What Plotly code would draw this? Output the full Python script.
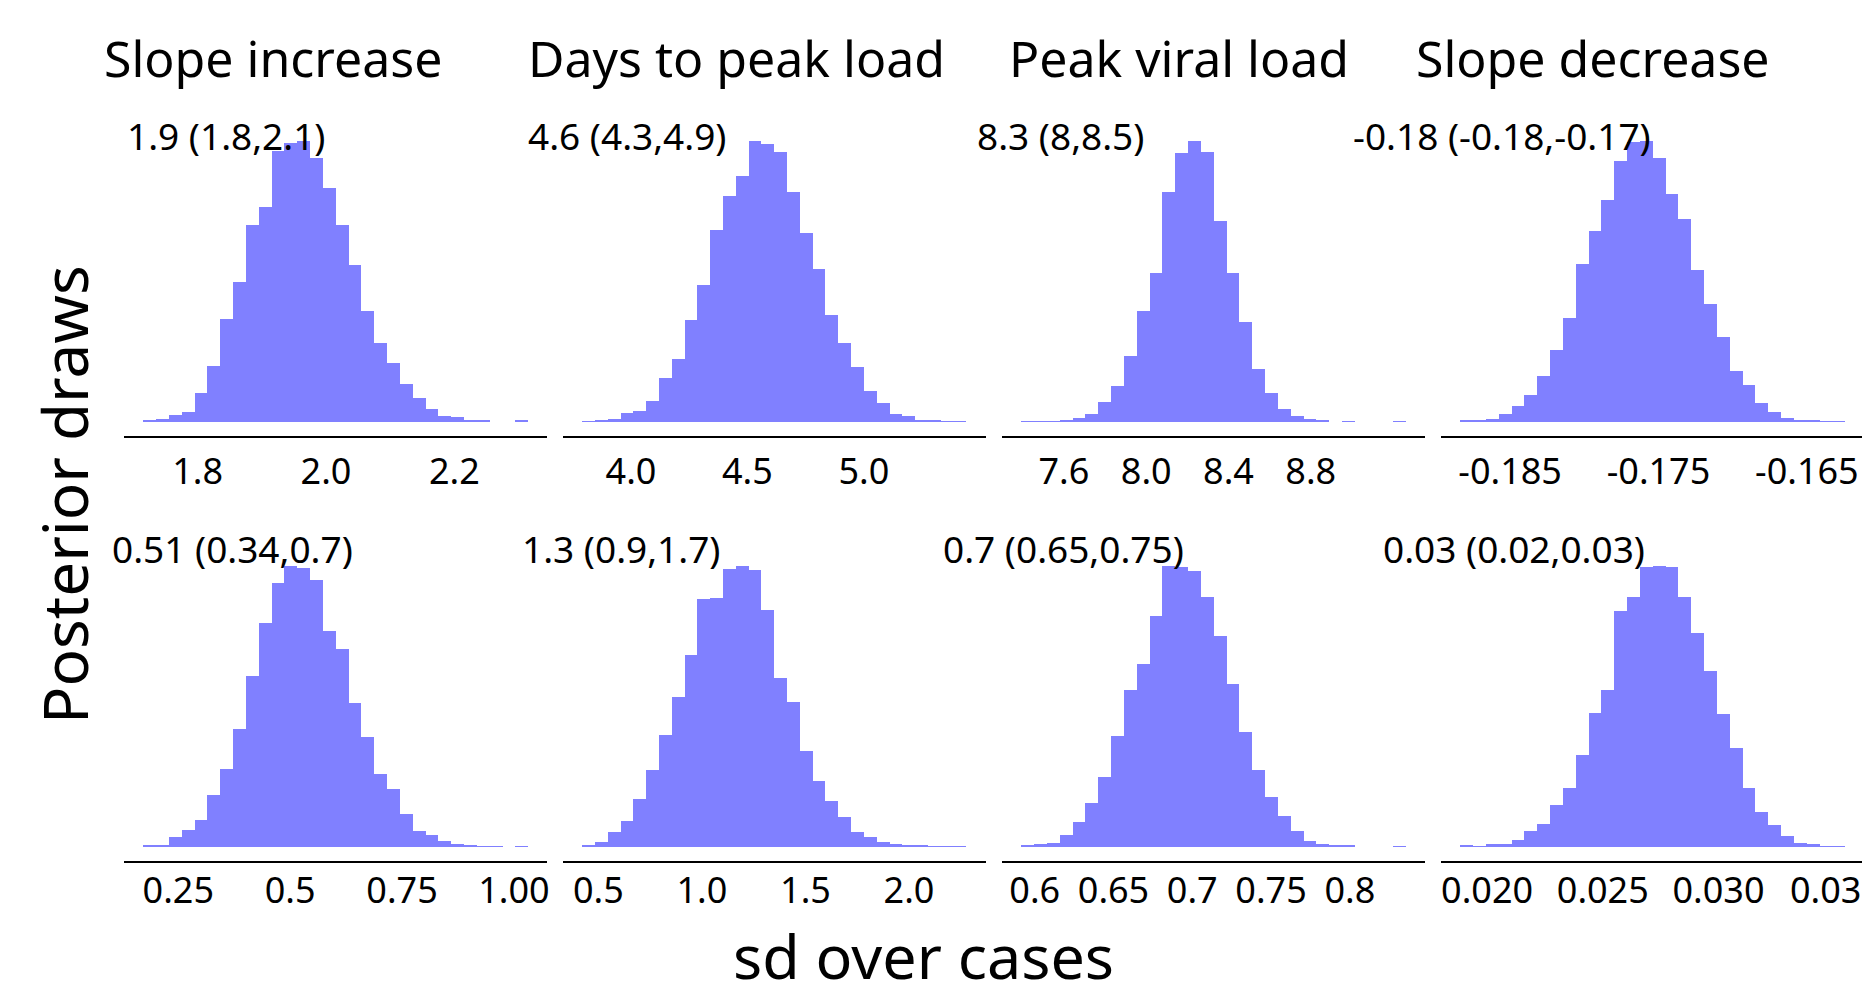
import numpy as np
import plotly.graph_objects as go

W, H = 1864, 988
FONT = "Noto Sans"
BAR_COLOR = "rgb(128,128,255)"

# ---------------- data ----------------
panel_titles = ["Slope increase", "Days to peak load", "Peak viral load", "Slope decrease"]
x_axis_title = "sd over cases"
y_axis_title = "Posterior draws"

# summary labels: median (95% interval)
stat_labels = [
    "1.9 (1.8,2.1)", "4.6 (4.3,4.9)", "8.3 (8,8.5)", "-0.18 (-0.18,-0.17)",
    "0.51 (0.34,0.7)", "1.3 (0.9,1.7)", "0.7 (0.65,0.75)", "0.03 (0.02,0.03)",
]

# histogram bins (30 bins per panel): left edge of first bin and bin width
bin_start = [1.715, 3.792, 7.392, -0.18833, 0.1714, 0.4237, 0.5914, 0.018861]
bin_width = [0.02, 0.055, 0.0624, 0.000865, 0.02868, 0.06183, 0.008146, 0.0005545]

counts_slope_increase_mean = [3, 10, 22, 30, 88, 167, 309, 419, 590, 645, 812, 835, 842, 792, 700,
                              591, 469, 333, 238, 177, 115, 73, 40, 17, 14, 4, 4, 0, 0, 3]
counts_days_to_peak_mean = [2, 3, 10, 28, 33, 65, 134, 195, 315, 423, 591, 695, 757, 865, 855,
                            832, 709, 582, 472, 328, 244, 170, 96, 57, 24, 17, 5, 3, 2, 2]
counts_peak_load_mean = [2, 1, 2, 4, 11, 23, 60, 109, 202, 341, 455, 705, 822, 860, 825,
                         615, 455, 305, 162, 88, 40, 19, 10, 3, 0, 2, 0, 0, 0, 2]
counts_slope_decrease_mean = [3, 7, 9, 22, 47, 79, 134, 209, 303, 462, 557, 648, 762, 818, 820,
                              770, 665, 592, 445, 345, 249, 148, 108, 54, 28, 13, 7, 6, 2, 2]
counts_slope_increase_sd = [3, 6, 30, 50, 81, 155, 231, 352, 507, 666, 786, 835, 830, 793, 642,
                            589, 428, 328, 218, 172, 97, 46, 35, 18, 9, 3, 2, 2, 0, 2]
counts_days_to_peak_sd = [6, 15, 45, 81, 148, 237, 344, 463, 593, 763, 766, 858, 866, 853, 730,
                          522, 447, 297, 202, 143, 91, 47, 30, 16, 8, 4, 3, 2, 1, 2]
counts_peak_load_sd = [3, 8, 11, 35, 75, 129, 208, 329, 465, 542, 685, 833, 830, 818, 740,
                       626, 482, 342, 228, 147, 91, 48, 19, 8, 5, 3, 0, 0, 0, 2]
counts_slope_decrease_sd = [3, 2, 8, 10, 20, 48, 68, 125, 175, 274, 397, 468, 700, 743, 833,
                            835, 833, 743, 637, 523, 395, 295, 175, 105, 66, 32, 11, 8, 2, 2]

panel_counts = [counts_slope_increase_mean, counts_days_to_peak_mean, counts_peak_load_mean,
                counts_slope_decrease_mean, counts_slope_increase_sd, counts_days_to_peak_sd,
                counts_peak_load_sd, counts_slope_decrease_sd]

tick_vals = [
    [1.8, 2.0, 2.2], [4.0, 4.5, 5.0], [7.6, 8.0, 8.4, 8.8], [-0.185, -0.175, -0.165],
    [0.25, 0.5, 0.75, 1.0], [0.5, 1.0, 1.5, 2.0], [0.6, 0.65, 0.7, 0.75, 0.8],
    [0.020, 0.025, 0.030],
]
tick_text = [
    ["1.8", "2.0", "2.2"], ["4.0", "4.5", "5.0"], ["7.6", "8.0", "8.4", "8.8"],
    ["-0.185", "-0.175", "-0.165"], ["0.25", "0.5", "0.75", "1.00"],
    ["0.5", "1.0", "1.5", "2.0"], ["0.6", "0.65", "0.7", "0.75", "0.8"],
    ["0.020", "0.025", "0.030"],
]
# last tick of the bottom-right panel is cut by the figure edge: only "0.03" of "0.035" shows
edge_tick_value = 0.035
edge_tick_visible_text = "0.03"

# ---------------- layout geometry (pixels) ----------------
col_px = [(124, 548), (564, 987), (1003, 1427), (1443, 1867)]
row_px = [(127, 436), (552, 861)]
row_label_standoff = [3, -3]
title_x_px = [273, 737, 1180, 1595]
title_y_px = 58
stat_x_px = [226, 628, 1062, 1504, 233, 622, 1065, 1516]
stat_y_px = [136, 136, 136, 136, 548, 548, 548, 548]

fig = go.Figure()
layout = dict(
    width=W, height=H,
    margin=dict(l=0, r=0, t=0, b=0),
    paper_bgcolor="white", plot_bgcolor="white",
    showlegend=False, bargap=0,
    font=dict(family=FONT, color="black"),
)

annotations = []
for i in range(8):
    r, c = divmod(i, 4)
    x0p, x1p = col_px[c]
    top, bot = row_px[r]
    a, h = bin_start[i], bin_width[i]
    counts = np.array(panel_counts[i], dtype=float)
    centers = a + h * (np.arange(len(counts)) + 0.5)
    n = len(counts)
    r0, r1 = a - 0.05 * n * h, a + n * h + 0.05 * n * h
    vis_x1p = min(x1p, W)
    r1v = r0 + (r1 - r0) * (vis_x1p - x0p) / (x1p - x0p)
    ymax = counts.max()
    suffix = "" if i == 0 else str(i + 1)
    fig.add_trace(go.Bar(
        x=centers, y=counts, width=h,
        marker=dict(color=BAR_COLOR, line=dict(width=0)),
        xaxis="x" + suffix, yaxis="y" + suffix, hoverinfo="x+y",
    ))
    layout["xaxis" + suffix] = dict(
        domain=[x0p / W, vis_x1p / W], range=[r0, r1v], anchor="y" + suffix,
        showgrid=False, zeroline=False, showline=True, linecolor="black", linewidth=2,
        ticks="", ticklabelstandoff=row_label_standoff[r],
        tickvals=tick_vals[i], ticktext=tick_text[i],
        tickfont=dict(family=FONT, size=36, color="black"),
    )
    layout["yaxis" + suffix] = dict(
        domain=[1 - bot / H, 1 - top / H], range=[-0.05 * ymax, 1.05 * ymax],
        anchor="x" + suffix, showgrid=False, zeroline=False, showline=False,
        showticklabels=False, ticks="",
    )
    annotations.append(dict(
        text=stat_labels[i], xref="paper", yref="paper",
        x=stat_x_px[i] / W, y=1 - stat_y_px[i] / H, xanchor="center", yanchor="middle",
        showarrow=False, font=dict(family=FONT, size=37, color="black"),
    ))

# cut-off tick label at the right edge (left part of "0.035")
annotations.append(dict(
    text=edge_tick_visible_text, xref="x8", yref="paper", x=edge_tick_value,
    y=1 - 889 / H, xanchor="left", xshift=-46, yanchor="middle", showarrow=False,
    font=dict(family=FONT, size=36, color="black"),
))

for c in range(4):
    annotations.append(dict(
        text=panel_titles[c], xref="paper", yref="paper",
        x=title_x_px[c] / W, y=1 - title_y_px / H, xanchor="center", yanchor="middle",
        showarrow=False, font=dict(family=FONT, size=50, color="black"),
    ))

annotations.append(dict(
    text=x_axis_title, xref="paper", yref="paper", x=924 / W, y=0,
    xanchor="center", yanchor="bottom", borderpad=0, yshift=-10, showarrow=False,
    font=dict(family=FONT, size=61, color="black"),
))
annotations.append(dict(
    text=y_axis_title, xref="paper", yref="paper", x=64 / W, y=1 - 494 / H,
    xanchor="center", yanchor="middle", showarrow=False, textangle=-90,
    font=dict(family=FONT, size=62, color="black"),
))

layout["annotations"] = annotations
fig.update_layout(**layout)
fig.write_html("out.html")
